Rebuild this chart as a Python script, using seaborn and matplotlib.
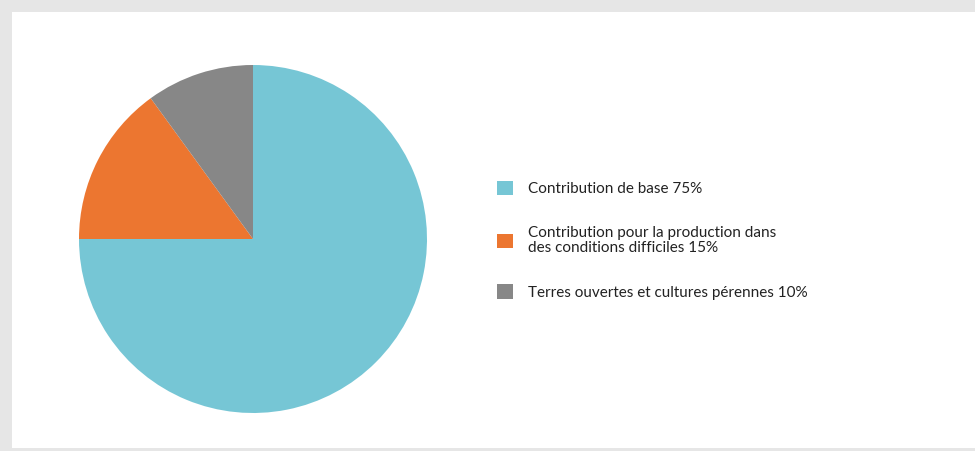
import matplotlib
matplotlib.use("Agg")
import matplotlib.pyplot as plt
import seaborn as sns
from matplotlib.patches import Rectangle

categories = [
    "Contribution de base 75%",
    "Contribution pour la production dans\ndes conditions difficiles 15%",
    "Terres ouvertes et cultures pérennes 10%",
]
values = [75, 15, 10]
colors = ["#76c6d5", "#ec7630", "#878787"]

sns.set_theme(style="white")
plt.rcParams["font.family"] = ["Lato", "DejaVu Sans"]

W, H = 975, 451
fig = plt.figure(figsize=(W / 100, H / 100), dpi=100)
fig.patch.set_facecolor("#e6e6e6")

# white panel
fig.patches.append(Rectangle((12 / W, 3 / H), (W - 12) / W, (H - 15) / H,
                             transform=fig.transFigure, facecolor="white",
                             edgecolor="none", zorder=-5))

cx, cy, r = 253, 239, 174
ax = fig.add_axes([(cx - r) / W, (H - cy - r) / H, 2 * r / W, 2 * r / H])
ax.set_zorder(2)
ax.set_facecolor("none")
wedges, _ = ax.pie(values, colors=colors, startangle=90, counterclock=False,
                   radius=1, wedgeprops=dict(linewidth=0))
ax.set_xlim(-1, 1)
ax.set_ylim(-1, 1)
ax.set_aspect("equal")
ax.axis("off")

fs = 11
leg = fig.legend(wedges, categories, loc="upper left",
                 bbox_to_anchor=(497 / W, (H - 181) / H),
                 frameon=False, fontsize=fs, handlelength=1.05, handleheight=1.05,
                 handletextpad=0.95, labelspacing=1.95, borderaxespad=0,
                 borderpad=0)
leg.set_zorder(3)
for t in leg.get_texts():
    t.set_color("#222222")
    t.set_linespacing(1.05)

fig.savefig("out.png", dpi=100, facecolor=fig.get_facecolor())
